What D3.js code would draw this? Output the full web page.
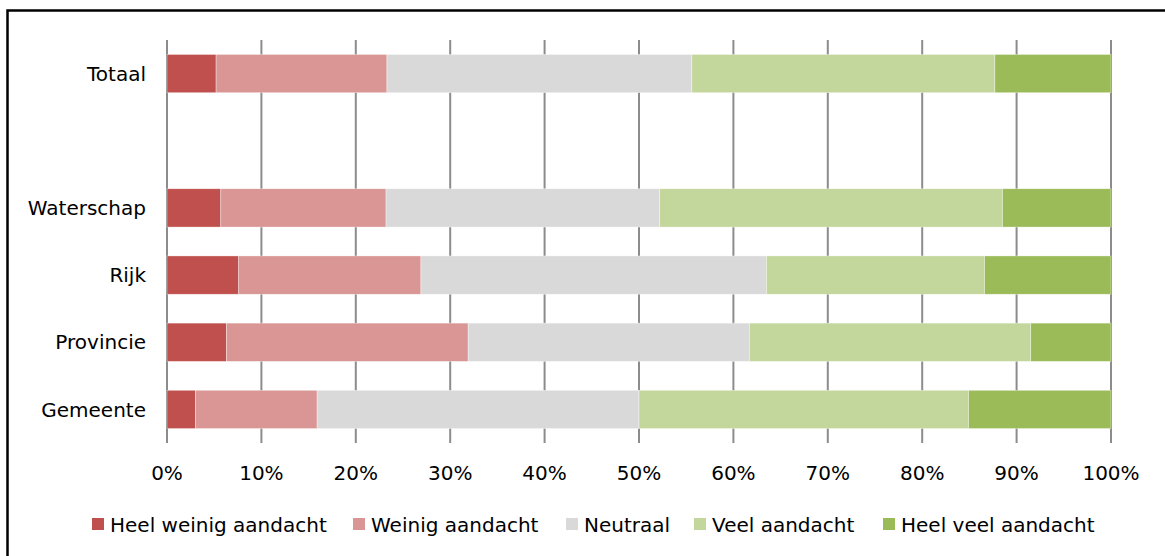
<!DOCTYPE html>
<html>
<head>
<meta charset="utf-8">
<script src="https://cdn.jsdelivr.net/npm/d3@7/dist/d3.min.js"></script>
<style>
  html, body { margin: 0; padding: 0; background: #fff; }
  svg { display: block; }
  text { font-family: "DejaVu Sans", sans-serif; fill: #000; }
</style>
</head>
<body>
<script>
// ---- data ----
const categories = ["Totaal", "", "Waterschap", "Rijk", "Provincie", "Gemeente"];
const seriesNames = ["Heel weinig aandacht", "Weinig aandacht", "Neutraal", "Veel aandacht", "Heel veel aandacht"];
const seriesColors = ["#C0504D", "#D99694", "#D9D9D9", "#C3D69B", "#9BBB59"];
const heelWeinig = [5.2, null, 5.7, 7.6, 6.3, 3.0];
const weinig     = [18.1, null, 17.5, 19.3, 25.6, 12.9];
const neutraal   = [32.3, null, 29.0, 36.6, 29.8, 34.1];
const veel       = [32.1, null, 36.3, 23.1, 29.8, 34.9];
const heelVeel   = [12.3, null, 11.5, 13.4, 8.5, 15.1];
const tickValues = [0, 10, 20, 30, 40, 50, 60, 70, 80, 90, 100];

const W = 1165, H = 556;
const svg = d3.select("body").append("svg").attr("width", W).attr("height", H);

// frame
svg.append("rect").attr("x", 7.5).attr("y", 10.5).attr("width", 1170).attr("height", 600)
  .attr("fill", "none").attr("stroke", "#000").attr("stroke-width", 2.5);

const x = d3.scaleLinear().domain([0, 100]).range([167, 1111]);
const y = d3.scaleBand().domain(categories.map((c, i) => i)).range([40, 443])
  .paddingInner(0.43).paddingOuter(0.215);

// gridlines
svg.append("g").selectAll("line").data(tickValues).join("line")
  .attr("x1", d => x(d)).attr("x2", d => x(d))
  .attr("y1", 40).attr("y2", 443)
  .attr("stroke", "#8C8C8C").attr("stroke-width", 2);

// stacked data
const rows = categories.map((c, i) => ({
  i, cat: c,
  v: [heelWeinig[i], weinig[i], neutraal[i], veel[i], heelVeel[i]]
}));
const keys = [0, 1, 2, 3, 4];
const stack = d3.stack().keys(keys).value((d, k) => d.v[k] || 0);
const stacked = stack(rows);

svg.append("g").selectAll("g").data(stacked).join("g")
  .attr("fill", (d, k) => seriesColors[k])
  .selectAll("rect").data(d => d.filter(s => s.data.v[0] !== null)).join("rect")
  .attr("x", d => x(d[0]))
  .attr("width", d => x(d[1]) - x(d[0]))
  .attr("y", d => y(d.data.i))
  .attr("height", y.bandwidth())
  .attr("stroke", "#fff").attr("stroke-width", 0.6).attr("stroke-opacity", 0.6);

// category labels
svg.append("g").selectAll("text").data(rows.filter(r => r.cat !== "")).join("text")
  .attr("x", 146).attr("y", d => y(d.i) + y.bandwidth() / 2)
  .attr("dy", "0.36em").attr("text-anchor", "end")
  .attr("font-size", 20).text(d => d.cat);

// tick labels
svg.append("g").selectAll("text").data(tickValues).join("text")
  .attr("x", d => x(d)).attr("y", 480)
  .attr("text-anchor", "middle").attr("font-size", 20)
  .text(d => d + "%");

// legend
const legendSwatchX = [92, 353, 566, 694, 883];
const lg = svg.append("g").selectAll("g").data(seriesNames).join("g")
  .attr("transform", (d, k) => `translate(${legendSwatchX[k]},518)`);
lg.append("rect").attr("width", 12).attr("height", 12).attr("fill", (d, k) => seriesColors[k]);
lg.append("text").attr("x", 18).attr("y", 13.5).attr("font-size", 20).text(d => d);
</script>
</body>
</html>
